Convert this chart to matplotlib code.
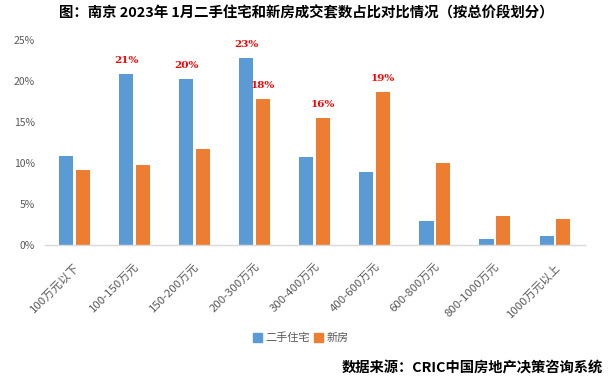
import matplotlib
matplotlib.use("Agg")
import matplotlib.pyplot as plt
import numpy as np
from matplotlib.patches import Patch

plt.rcParams['font.family'] = ['Noto Sans CJK SC', 'DejaVu Sans']

categories = ["100万元以下", "100-150万元", "150-200万元", "200-300万元", "300-400万元",
              "400-600万元", "600-800万元", "800-1000万元", "1000万元以上"]
second_hand = [10.8, 20.9, 20.2, 22.8, 10.7, 8.9, 2.9, 0.7, 1.1]
new_house = [9.1, 9.7, 11.65, 17.8, 15.5, 18.7, 10.0, 3.5, 3.2]
second_labels = {1: "21%", 2: "20%", 3: "23%"}
new_labels = {3: "18%", 4: "16%", 5: "19%"}
yticks = [0, 5, 10, 15, 20, 25]

blue = "#5B9BD5"
orange = "#ED7D31"

fig = plt.figure(figsize=(6.13, 3.84), dpi=100)
ax = fig.add_axes([44.5/613, 1-245/384, (585-44.5)/613, (245-40)/384])

x = np.arange(len(categories))
w = 0.235
off = 0.14
ax.bar(x - off, second_hand, width=w, color=blue)
ax.bar(x + off, new_house, width=w, color=orange)

for i, t in second_labels.items():
    ax.text(x[i] - off, second_hand[i] + 1.1, t, color="red", fontsize=7.5,
            fontweight="bold", ha="center", va="bottom", family="DejaVu Serif")
for i, t in new_labels.items():
    ax.text(x[i] + off, new_house[i] + 1.1, t, color="red", fontsize=7.5,
            fontweight="bold", ha="center", va="bottom", family="DejaVu Serif")

ax.set_xlim(-0.5, len(categories) - 0.5)
ax.set_ylim(0, 25)
ax.set_yticks(yticks)
ax.set_yticklabels([f"{v}%" for v in yticks], color="#595959", fontsize=7.5)
ax.set_xticks(x)
ax.set_xticklabels(categories, rotation=45, ha="right", va="top",
                   rotation_mode="anchor", color="#595959", fontsize=8.2)
ax.tick_params(axis="both", length=0)
ax.tick_params(axis="x", pad=12)
ax.tick_params(axis="y", pad=7)
for s in ["top", "right", "left"]:
    ax.spines[s].set_visible(False)
ax.spines["bottom"].set_color("#D9D9D9")
ax.spines["bottom"].set_linewidth(1)

fig.text(0.5, 1-13/384, "图：南京 2023年 1月二手住宅和新房成交套数占比对比情况（按总价段划分）",
         ha="center", va="center", fontsize=10.4, fontweight="bold")

handles = [Patch(color=blue, label="二手住宅"), Patch(color=orange, label="新房")]
fig.legend(handles=handles, loc="center", bbox_to_anchor=(301/613, 1-338/384),
           ncol=2, frameon=False, fontsize=8, handlelength=0.8, handleheight=0.8,
           handletextpad=0.3, columnspacing=0.4, labelcolor="#595959")

fig.text(603/613, 1-368/384, "数据来源：CRIC中国房地产决策咨询系统", ha="right", va="center",
         fontsize=10.3, fontweight="bold")

fig.savefig("out.png", dpi=100)
